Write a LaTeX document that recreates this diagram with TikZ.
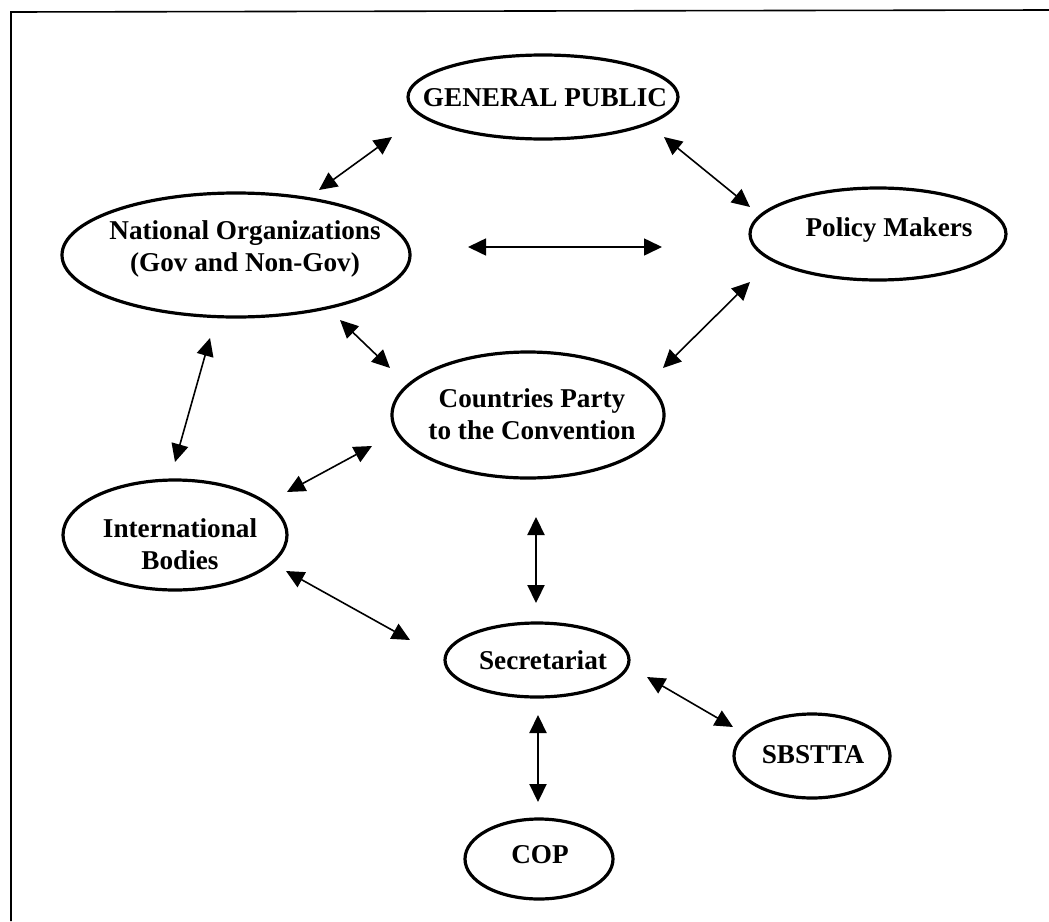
\documentclass[tikz,border=0pt]{standalone}
\usepackage{fontspec}
\setmainfont{Liberation Serif}
\usetikzlibrary{shapes.geometric,arrows.meta}
\tikzset{
  ell/.style={ellipse, draw, line width=1.6pt, inner sep=0pt},
  lbl/.style={align=center, inner sep=0pt, font=\fontsize{13.6}{16}\selectfont\bfseries},
  link/.style={{Triangle[length=9pt,width=8.5pt]}-{Triangle[length=9pt,width=8.5pt]}, line width=0.8pt},
  vlink/.style={link, line width=1.1pt},
  frame/.style={line width=0.8pt}
}
\begin{document}
\begin{tikzpicture}[x=0.5pt,y=-0.5pt]
\useasboundingbox (0,0) rectangle (1049,921);
% frame
\coordinate (f1) at (11,921);
\coordinate (f2) at (11,12);
\coordinate (f3) at (1049,10);
\draw[frame] (f1) -- (f2) -- (f3);

% ellipses
\node[ell, minimum width=135pt, minimum height=42pt] (GP) at (543,97) {};
\node[ell, minimum width=174pt, minimum height=62pt] (NO) at (236,255) {};
\node[ell, minimum width=128pt, minimum height=46pt] (PM) at (878,234) {};
\node[ell, minimum width=136pt, minimum height=63pt] (CP) at (528,415) {};
\node[ell, minimum width=112pt, minimum height=55pt] (IB) at (175,535) {};
\node[ell, minimum width=92pt, minimum height=37pt] (SE) at (537,660) {};
\node[ell, minimum width=78pt, minimum height=42pt] (SB) at (812,756) {};
\node[ell, minimum width=74pt, minimum height=40pt] (CO) at (539,859) {};

% labels
\node[lbl] (GPt) at (545,98) {GENERAL PUBLIC};
\node[lbl] (NOt) at (245,249) {National Organizations\\(Gov and Non-Gov)};
\node[lbl] (PMt) at (889,230) {Policy Makers};
\node[lbl] (CPt) at (532,414) {Countries Party\\to the Convention};
\node[lbl] (IBt) at (180,544) {International\\Bodies};
\node[lbl] (SEt) at (543,660) {Secretariat};
\node[lbl] (SBt) at (813,755) {SBSTTA};
\node[lbl] (COt) at (540,855) {COP};

% connector end points
\coordinate (a1) at (392,137); \coordinate (a2) at (319,190);
\coordinate (b1) at (664,137); \coordinate (b2) at (750,207);
\coordinate (c1) at (468,247); \coordinate (c2) at (662,247);
\coordinate (d1) at (750,282); \coordinate (d2) at (663,368);
\coordinate (e1) at (340,320); \coordinate (e2) at (390,368);
\coordinate (g1) at (210,338); \coordinate (g2) at (175,462);
\coordinate (h1) at (287,492); \coordinate (h2) at (372,446);
\coordinate (i1) at (536,517); \coordinate (i2) at (536,603);
\coordinate (j1) at (286,571); \coordinate (j2) at (410,640);
\coordinate (k1) at (647,677); \coordinate (k2) at (733,727);
\coordinate (l1) at (538,715); \coordinate (l2) at (538,802);

\draw[link] (a1) -- (a2);
\draw[link] (b1) -- (b2);
\draw[link] (c1) -- (c2);
\draw[link] (d1) -- (d2);
\draw[link] (e1) -- (e2);
\draw[link] (g1) -- (g2);
\draw[link] (h1) -- (h2);
\draw[vlink] (i1) -- (i2);
\draw[link] (j1) -- (j2);
\draw[link] (k1) -- (k2);
\draw[vlink] (l1) -- (l2);
\end{tikzpicture}
\end{document}
